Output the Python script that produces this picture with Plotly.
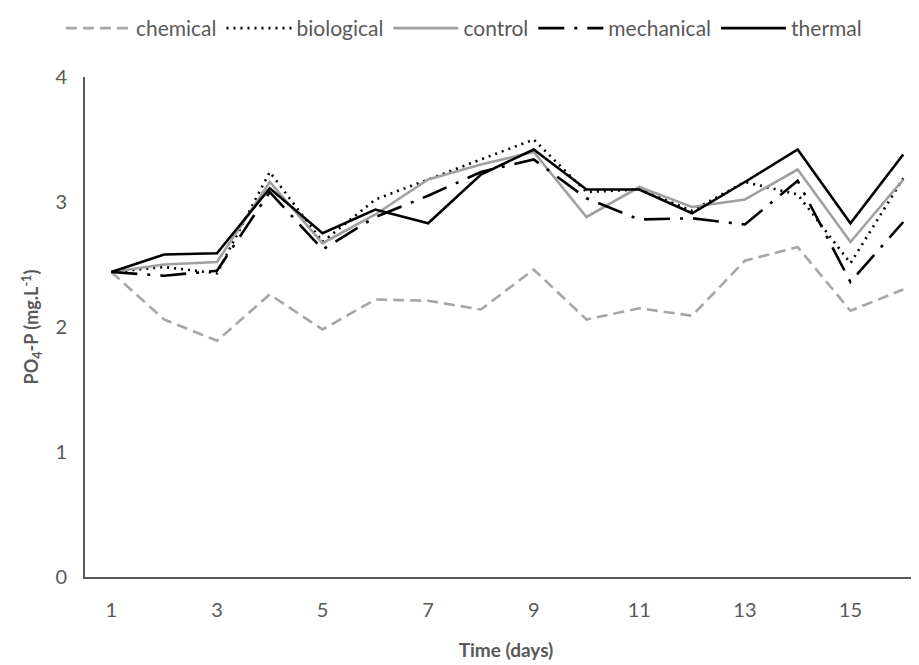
import plotly.graph_objects as go

days = list(range(1, 17))
chemical   = [2.44, 2.06, 1.89, 2.26, 1.98, 2.22, 2.21, 2.14, 2.46, 2.06, 2.15, 2.09, 2.53, 2.64, 2.13, 2.30]
biological = [2.44, 2.48, 2.43, 3.24, 2.68, 3.02, 3.18, 3.34, 3.50, 3.08, 3.10, 2.93, 3.16, 3.06, 2.51, 3.19]
control    = [2.44, 2.50, 2.52, 3.16, 2.67, 2.90, 3.18, 3.30, 3.40, 2.88, 3.12, 2.96, 3.02, 3.26, 2.68, 3.18]
mechanical = [2.44, 2.41, 2.45, 3.08, 2.62, 2.88, 3.05, 3.24, 3.34, 3.03, 2.86, 2.87, 2.82, 3.17, 2.36, 2.84]
thermal    = [2.44, 2.58, 2.59, 3.11, 2.75, 2.94, 2.83, 3.22, 3.42, 3.10, 3.10, 2.91, 3.16, 3.42, 2.83, 3.38]

x_ticks = [1, 3, 5, 7, 9, 11, 13, 15]
y_ticks = [0, 1, 2, 3, 4]

series = [
    ("chemical", chemical, "#a6a6a6", "11px,6px"),
    ("biological", biological, "#000000", "2px,5px"),
    ("control", control, "#a0a0a0", "solid"),
    ("mechanical", mechanical, "#000000", "26px,10px,3px,10px"),
    ("thermal", thermal, "#000000", "solid"),
]

fig = go.Figure()
for name, vals, color, dash in series:
    fig.add_trace(go.Scatter(
        x=days, y=vals, name=name, mode="lines",
        line=dict(color=color, width=2.6, dash=dash),
    ))

font_family = "Lato, 'Open Sans', sans-serif"
fig.update_layout(
    width=919, height=665,
    margin=dict(l=77, r=0, t=69, b=96),
    paper_bgcolor="white", plot_bgcolor="white",
    font=dict(family=font_family, color="#595959", size=19),
    showlegend=True,
    legend=dict(
        orientation="h", x=0.45, xanchor="center", y=1.0, yanchor="top",
        yref="container", font=dict(size=21, color="#595959"),
        itemwidth=65, tracegroupgap=0,
    ),
    xaxis=dict(
        range=[0.5, 16.45], tickmode="array", tickvals=x_ticks,
        ticktext=[str(v) for v in x_ticks],
        showgrid=False, zeroline=False, automargin=False,
        showline=True, linecolor="#595959", linewidth=2,
        ticks="outside", ticklen=14, tickcolor="rgba(0,0,0,0)",
        tickfont=dict(size=20, color="#595959"),
        title=dict(text="<b>Time (days)</b>", font=dict(size=19, color="#595959"), standoff=24),
    ),
    yaxis=dict(
        range=[0, 4], tickmode="array", tickvals=y_ticks,
        showgrid=False, zeroline=False, automargin=False,
        showline=True, linecolor="#595959", linewidth=2,
        ticks="outside", ticklen=12, tickcolor="rgba(0,0,0,0)",
        tickfont=dict(size=20, color="#595959"),
        title=dict(text="<b>PO<sub>4</sub>-P (mg.L<sup>-1</sup>)</b>", font=dict(size=18, color="#595959"), standoff=12),
    ),
)

fig.write_html("out.html")
